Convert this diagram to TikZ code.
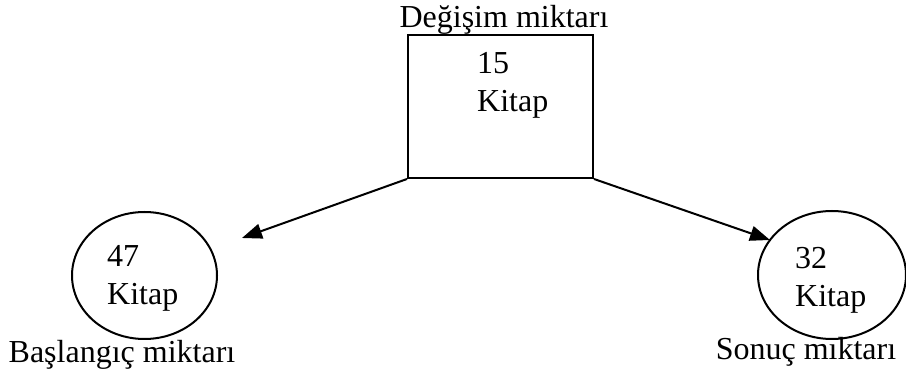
\documentclass[tikz,border=0pt]{standalone}
\usepackage{fontspec}
\setmainfont{Liberation Serif}
\usetikzlibrary{arrows.meta,shapes.geometric}

\tikzset{
  kutu/.style = {draw, line width = 2pt, minimum width = 185pt, minimum height = 143pt, inner sep = 0pt},
  daire/.style = {draw, ellipse, line width = 2pt, inner sep = 0pt},
  yazi/.style = {inner sep = 0pt, font = \fontsize{32}{38}\selectfont},
  icyazi/.style = {yazi, align = left, anchor = north west},
  ok/.style = {-{Triangle[length = 20pt, width = 15pt]}, line width = 2pt}
}

\begin{document}
\begin{tikzpicture}[x = 1pt, y = -1pt]
    \useasboundingbox (0, 0) rectangle (906, 371);
    \node[kutu] (Degisim) at (500.5, 106.5) {};
    \node[daire, minimum width = 145pt, minimum height = 127pt] (Baslangic) at (144.5, 275.5) {};
    \node[daire, minimum width = 148pt, minimum height = 128pt] (Sonuc) at (832, 275) {};
    \node[yazi, anchor = base] (Degisim Ad) at (504, 28) {Değişim miktarı};
    \node[yazi, anchor = base] (Baslangic Ad) at (122, 363) {Başlangıç miktarı};
    \node[yazi, anchor = base] (Sonuc Ad) at (806, 360) {Sonuç mıktarı};
    \node[icyazi] (Degisim Sayi) at (477, 52) {15\\Kitap};
    \node[icyazi] (Baslangic Sayi) at (107, 245) {47\\Kitap};
    \node[icyazi] (Sonuc Sayi) at (795, 247) {32\\Kitap};
    \coordinate (Sol Uc) at (242, 238);
    \coordinate (Sag Uc) at (770, 240);
    \draw[ok] (Degisim.south west) -- (Sol Uc);
    \draw[ok] (Degisim.south east) -- (Sag Uc);
\end{tikzpicture}
\end{document}
